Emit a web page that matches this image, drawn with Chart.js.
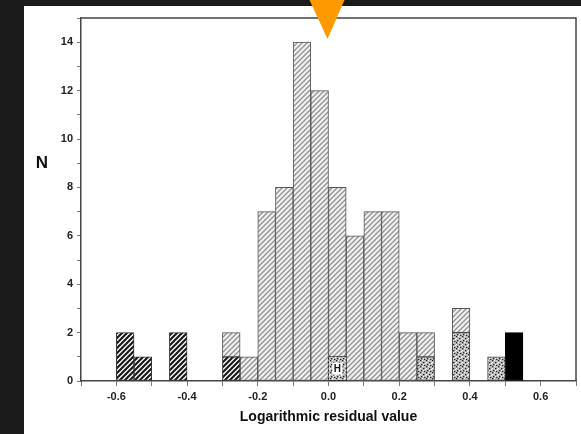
<!DOCTYPE html>
<html>
<head>
<meta charset="utf-8">
<script src="https://cdn.jsdelivr.net/npm/chart.js@4.4.1/dist/chart.umd.min.js"></script>
<style>
  html, body { margin: 0; padding: 0; background: #1b1b1b; }
  #wrap { width: 581px; height: 434px; }
</style>
</head>
<body>
<div id="wrap"><canvas id="chart" width="581" height="434"></canvas></div>
<script>
// histogram bins (left edge of each 0.05 bin)
const binWidth = 0.05;
const binStart = [-0.6, -0.55, -0.5, -0.45, -0.4, -0.35, -0.3, -0.25, -0.2, -0.15, -0.1, -0.05,
                  0.0, 0.05, 0.1, 0.15, 0.2, 0.25, 0.3, 0.35, 0.4, 0.45, 0.5];
// counts per group, stacked from the bottom
const darkHatched = [2, 1, 0, 2, 0, 0, 1, 0, 0, 0, 0, 0, 0, 0, 0, 0, 0, 0, 0, 0, 0, 0, 0];
const stippled    = [0, 0, 0, 0, 0, 0, 0, 0, 0, 0, 0, 0, 1, 0, 0, 0, 0, 1, 0, 2, 0, 1, 0];
const solidBlack  = [0, 0, 0, 0, 0, 0, 0, 0, 0, 0, 0, 0, 0, 0, 0, 0, 0, 0, 0, 0, 0, 0, 2];
const lightHatched= [0, 0, 0, 0, 0, 0, 1, 1, 7, 8, 14, 12, 7, 6, 7, 7, 2, 1, 0, 1, 0, 0, 0];
const hBinIndex = 12; // the bar marked "H"

const yTickValues = [0, 2, 4, 6, 8, 10, 12, 14];
const xTickLabels = ['-0.6', '-0.4', '-0.2', '0.0', '0.2', '0.4', '0.6'];
const markerValue = 0.0; // orange arrow above the plot

const font = 'Liberation Sans, Arial, sans-serif';

function makeHatch(bg, fg, size, lw) {
    const c = document.createElement('canvas');
    c.width = size; c.height = size;
    const g = c.getContext('2d');
    g.fillStyle = bg;
    g.fillRect(0, 0, size, size);
    g.strokeStyle = fg;
    g.lineWidth = lw;
    g.beginPath();
    g.moveTo(0, size); g.lineTo(size, 0);
    g.moveTo(-size / 2, size / 2); g.lineTo(size / 2, -size / 2);
    g.moveTo(size / 2, size * 1.5); g.lineTo(size * 1.5, size / 2);
    g.stroke();
    return g.createPattern(c, 'repeat');
}

function makeStipple() {
    const c = document.createElement('canvas');
    c.width = 6; c.height = 6;
    const g = c.getContext('2d');
    g.fillStyle = '#bdbdbd';
    g.fillRect(0, 0, 6, 6);
    g.fillStyle = '#222';
    [[0, 0], [3, 2], [1, 4], [4, 5]].forEach(p => g.fillRect(p[0], p[1], 1.3, 1.3));
    g.fillStyle = '#fff';
    [[2, 0], [5, 3], [0, 2], [3, 4]].forEach(p => g.fillRect(p[0], p[1], 1, 1));
    return g.createPattern(c, 'repeat');
}

const lightPattern = makeHatch('#f0f0f0', '#929292', 5, 1.3);
const darkPattern = makeHatch('#ffffff', '#1a1a1a', 5, 2.2);
const stipplePattern = makeStipple();

function toPoints(arr) {
    return binStart.map((s, i) => ({ x: s + binWidth / 2, y: arr[i] === 0 ? null : arr[i] }));
}

const pagePlugin = {
    id: 'page',
    beforeDraw(chart) {
        const c = chart.ctx;
        c.save();
        c.fillStyle = '#1b1b1b';
        c.fillRect(0, 0, chart.width, chart.height);
        c.fillStyle = '#ffffff';
        c.fillRect(24, 6, chart.width - 24, chart.height - 6);
        c.restore();
    },
    afterDraw(chart) {
        const c = chart.ctx;
        const a = chart.chartArea;
        const xs = chart.scales.x;
        const ys = chart.scales.y;
        c.save();
        // frame top and right
        c.strokeStyle = '#444';
        c.lineWidth = 1.5;
        c.beginPath();
        c.moveTo(a.left, a.top); c.lineTo(a.right, a.top); c.lineTo(a.right, a.bottom);
        c.stroke();

        // "H" bar: dashed box and letter
        const el = chart.getDatasetMeta(1).data[hBinIndex];
        if (el) {
            const p = el.getProps(['x', 'y', 'base', 'width'], true);
            c.setLineDash([2, 2]);
            c.strokeStyle = '#222';
            c.lineWidth = 1;
            c.strokeRect(p.x - p.width / 2, p.y, p.width, p.base - p.y);
            c.setLineDash([]);
            c.fillStyle = '#fff';
            c.fillRect(p.x - 5, (p.y + p.base) / 2 - 6, 10, 12);
            c.fillStyle = '#111';
            c.font = 'bold 10px ' + font;
            c.textAlign = 'center';
            c.textBaseline = 'middle';
            c.fillText('H', p.x, (p.y + p.base) / 2 + 0.5);
        }

        // y axis letter
        c.fillStyle = '#111';
        c.font = 'bold 17px ' + font;
        c.textAlign = 'center';
        c.textBaseline = 'middle';
        c.fillText('N', 42, ys.getPixelForValue(9));

        // orange marker
        const mx = xs.getPixelForValue(markerValue) - 1;
        c.fillStyle = '#ff9900';
        c.beginPath();
        c.moveTo(mx - 18, 0);
        c.lineTo(mx + 17, 0);
        c.lineTo(mx, 39);
        c.closePath();
        c.fill();
        c.restore();
    }
};

const barCommon = {
    borderWidth: 1,
    borderSkipped: false,
    barPercentage: 1.0,
    categoryPercentage: 1.0
};

new Chart(document.getElementById('chart'), {
    type: 'bar',
    data: {
        datasets: [
            { ...barCommon, label: 'dark', data: toPoints(darkHatched), backgroundColor: darkPattern, borderColor: '#333' },
            { ...barCommon, label: 'stipple', data: toPoints(stippled), backgroundColor: stipplePattern,
              borderColor: ctx => ctx.dataIndex === hBinIndex ? 'rgba(0,0,0,0)' : '#444' },
            { ...barCommon, label: 'black', data: toPoints(solidBlack), backgroundColor: '#000', borderColor: '#000' },
            { ...barCommon, label: 'light', data: toPoints(lightHatched), backgroundColor: lightPattern, borderColor: '#555' }
        ]
    },
    options: {
        responsive: false,
        animation: false,
        events: [],
        layout: { padding: { left: 24, top: 18, right: 5, bottom: 0 } },
        plugins: { legend: { display: false }, tooltip: { enabled: false } },
        scales: {
            x: {
                type: 'linear',
                stacked: true,
                offset: false,
                min: -0.7,
                max: 0.7,
                afterFit: s => { s.height = 53; },
                ticks: {
                    stepSize: 0.1,
                    autoSkip: false,
                    maxRotation: 0,
                    padding: 4,
                    color: '#222',
                    font: { family: font, size: 11, weight: 'bold' },
                    callback: v => {
                        const t = (Math.round(v * 10) / 10).toFixed(1);
                        return xTickLabels.includes(t) ? t : '';
                    }
                },
                grid: { display: true, offset: false, drawOnChartArea: false, tickLength: 5, color: '#777', tickWidth: 1 },
                border: { display: true, color: '#444', width: 1.5 },
                title: {
                    display: true,
                    text: 'Logarithmic residual value',
                    color: '#111',
                    font: { family: font, size: 14, weight: 'bold' },
                    padding: { top: 2, bottom: 8 }
                }
            },
            y: {
                stacked: true,
                min: 0,
                max: 15,
                afterFit: s => { s.width = 57; },
                ticks: {
                    stepSize: 1,
                    padding: 4,
                    color: '#222',
                    font: { family: font, size: 11, weight: 'bold' },
                    callback: v => yTickValues.includes(v) ? String(v) : ''
                },
                grid: { display: true, drawOnChartArea: false, tickLength: 4, color: '#777', tickWidth: 1 },
                border: { display: true, color: '#444', width: 1.5 }
            }
        }
    },
    plugins: [pagePlugin]
});
</script>
</body>
</html>
